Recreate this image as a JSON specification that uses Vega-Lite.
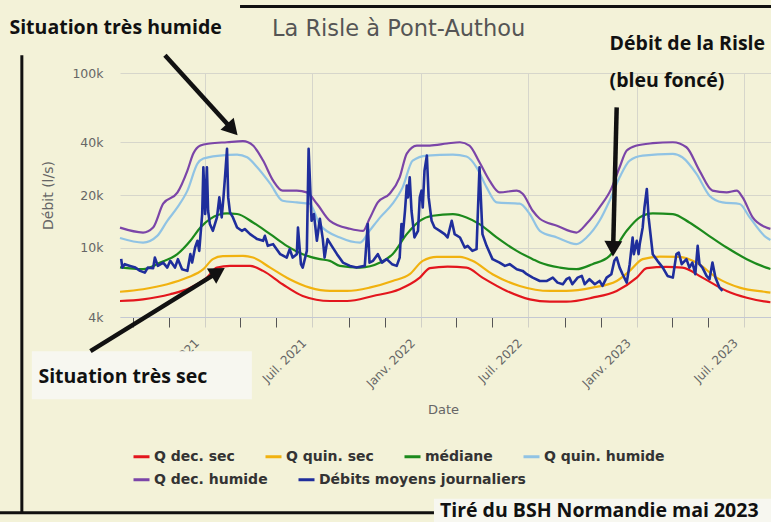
{
  "$schema": "https://vega.github.io/schema/vega-lite/v6.json",
  "width": 651,
  "height": 244,
  "autosize": {"type": "none"},
  "padding": {"left": 120, "top": 73, "right": 0, "bottom": 205},
  "background": "#f3f2d8",
  "config": {"view": {"stroke": null}},
  "datasets": {
    "flows": [
      {"date":"2020-08-10","serie":"Q dec. sec","debit":4940},
      {"date":"2020-09-18","serie":"Q dec. sec","debit":5050},
      {"date":"2020-11-03","serie":"Q dec. sec","debit":5400},
      {"date":"2020-12-07","serie":"Q dec. sec","debit":5890},
      {"date":"2021-01-04","serie":"Q dec. sec","debit":6725},
      {"date":"2021-01-21","serie":"Q dec. sec","debit":7675},
      {"date":"2021-02-12","serie":"Q dec. sec","debit":7850},
      {"date":"2021-03-18","serie":"Q dec. sec","debit":7850},
      {"date":"2021-04-09","serie":"Q dec. sec","debit":7350},
      {"date":"2021-05-12","serie":"Q dec. sec","debit":6160},
      {"date":"2021-06-15","serie":"Q dec. sec","debit":5280},
      {"date":"2021-07-31","serie":"Q dec. sec","debit":4940},
      {"date":"2021-08-29","serie":"Q dec. sec","debit":4940},
      {"date":"2021-10-12","serie":"Q dec. sec","debit":5280},
      {"date":"2021-11-26","serie":"Q dec. sec","debit":5770},
      {"date":"2021-12-30","serie":"Q dec. sec","debit":6725},
      {"date":"2022-01-16","serie":"Q dec. sec","debit":7615},
      {"date":"2022-02-15","serie":"Q dec. sec","debit":7780},
      {"date":"2022-03-19","serie":"Q dec. sec","debit":7675},
      {"date":"2022-04-15","serie":"Q dec. sec","debit":6725},
      {"date":"2022-05-26","serie":"Q dec. sec","debit":5640},
      {"date":"2022-07-04","serie":"Q dec. sec","debit":5050},
      {"date":"2022-08-07","serie":"Q dec. sec","debit":4895},
      {"date":"2022-09-04","serie":"Q dec. sec","debit":4895},
      {"date":"2022-10-18","serie":"Q dec. sec","debit":5160},
      {"date":"2022-11-28","serie":"Q dec. sec","debit":5640},
      {"date":"2023-01-01","serie":"Q dec. sec","debit":6725},
      {"date":"2023-01-18","serie":"Q dec. sec","debit":7615},
      {"date":"2023-02-20","serie":"Q dec. sec","debit":7740},
      {"date":"2023-03-19","serie":"Q dec. sec","debit":7675},
      {"date":"2023-04-22","serie":"Q dec. sec","debit":6725},
      {"date":"2023-06-02","serie":"Q dec. sec","debit":5640},
      {"date":"2023-07-06","serie":"Q dec. sec","debit":5160},
      {"date":"2023-08-08","serie":"Q dec. sec","debit":4895},
      {"date":"2023-08-15","serie":"Q dec. sec","debit":4860},

      {"date":"2020-08-10","serie":"Q quin. sec","debit":5580},
      {"date":"2020-09-18","serie":"Q quin. sec","debit":5770},
      {"date":"2020-10-29","serie":"Q quin. sec","debit":6160},
      {"date":"2020-12-02","serie":"Q quin. sec","debit":6725},
      {"date":"2020-12-29","serie":"Q quin. sec","debit":7515},
      {"date":"2021-01-14","serie":"Q quin. sec","debit":8580},
      {"date":"2021-01-31","serie":"Q quin. sec","debit":8925},
      {"date":"2021-03-06","serie":"Q quin. sec","debit":8960},
      {"date":"2021-03-23","serie":"Q quin. sec","debit":8760},
      {"date":"2021-04-21","serie":"Q quin. sec","debit":7675},
      {"date":"2021-05-24","serie":"Q quin. sec","debit":6585},
      {"date":"2021-06-27","serie":"Q quin. sec","debit":5890},
      {"date":"2021-07-31","serie":"Q quin. sec","debit":5640},
      {"date":"2021-08-29","serie":"Q quin. sec","debit":5640},
      {"date":"2021-10-06","serie":"Q quin. sec","debit":5890},
      {"date":"2021-11-14","serie":"Q quin. sec","debit":6435},
      {"date":"2021-12-13","serie":"Q quin. sec","debit":7035},
      {"date":"2022-01-04","serie":"Q quin. sec","debit":8390},
      {"date":"2022-01-28","serie":"Q quin. sec","debit":8845},
      {"date":"2022-03-08","serie":"Q quin. sec","debit":8845},
      {"date":"2022-03-29","serie":"Q quin. sec","debit":8390},
      {"date":"2022-05-02","serie":"Q quin. sec","debit":7035},
      {"date":"2022-06-17","serie":"Q quin. sec","debit":6025},
      {"date":"2022-08-07","serie":"Q quin. sec","debit":5640},
      {"date":"2022-09-04","serie":"Q quin. sec","debit":5640},
      {"date":"2022-10-18","serie":"Q quin. sec","debit":5890},
      {"date":"2022-11-28","serie":"Q quin. sec","debit":6435},
      {"date":"2022-12-20","serie":"Q quin. sec","debit":7350},
      {"date":"2023-01-11","serie":"Q quin. sec","debit":8580},
      {"date":"2023-02-09","serie":"Q quin. sec","debit":8880},
      {"date":"2023-03-14","serie":"Q quin. sec","debit":8845},
      {"date":"2023-04-12","serie":"Q quin. sec","debit":8200},
      {"date":"2023-05-16","serie":"Q quin. sec","debit":6725},
      {"date":"2023-06-24","serie":"Q quin. sec","debit":5890},
      {"date":"2023-08-08","serie":"Q quin. sec","debit":5560},
      {"date":"2023-08-15","serie":"Q quin. sec","debit":5520},

      {"date":"2020-08-10","serie":"médiane","debit":7690},
      {"date":"2020-09-18","serie":"médiane","debit":7515},
      {"date":"2020-10-17","serie":"médiane","debit":8200},
      {"date":"2020-11-15","serie":"médiane","debit":9165},
      {"date":"2020-12-07","serie":"médiane","debit":10930},
      {"date":"2020-12-24","serie":"médiane","debit":13030},
      {"date":"2021-01-09","serie":"médiane","debit":14560},
      {"date":"2021-02-07","serie":"médiane","debit":15680},
      {"date":"2021-02-24","serie":"médiane","debit":15560},
      {"date":"2021-03-23","serie":"médiane","debit":13920},
      {"date":"2021-04-21","serie":"médiane","debit":11940},
      {"date":"2021-05-19","serie":"médiane","debit":10230},
      {"date":"2021-06-15","serie":"médiane","debit":9165},
      {"date":"2021-07-14","serie":"médiane","debit":8580},
      {"date":"2021-07-31","serie":"médiane","debit":8390},
      {"date":"2021-08-17","serie":"médiane","debit":7850},
      {"date":"2021-09-20","serie":"médiane","debit":7675},
      {"date":"2021-10-24","serie":"médiane","debit":8200},
      {"date":"2021-11-14","serie":"médiane","debit":9165},
      {"date":"2021-12-08","serie":"médiane","debit":11940},
      {"date":"2021-12-30","serie":"médiane","debit":14230},
      {"date":"2022-01-21","serie":"médiane","debit":15210},
      {"date":"2022-02-24","serie":"médiane","debit":15560},
      {"date":"2022-03-19","serie":"médiane","debit":14880},
      {"date":"2022-04-10","serie":"médiane","debit":13630},
      {"date":"2022-05-09","serie":"médiane","debit":11420},
      {"date":"2022-06-12","serie":"médiane","debit":9570},
      {"date":"2022-07-09","serie":"médiane","debit":8580},
      {"date":"2022-07-21","serie":"médiane","debit":8200},
      {"date":"2022-08-24","serie":"médiane","debit":7675},
      {"date":"2022-09-21","serie":"médiane","debit":7515},
      {"date":"2022-10-18","serie":"médiane","debit":8030},
      {"date":"2022-11-16","serie":"médiane","debit":8960},
      {"date":"2022-12-15","serie":"médiane","debit":12470},
      {"date":"2023-01-06","serie":"médiane","debit":14880},
      {"date":"2023-01-28","serie":"médiane","debit":15680},
      {"date":"2023-03-03","serie":"médiane","debit":15560},
      {"date":"2023-03-31","serie":"médiane","debit":13920},
      {"date":"2023-04-29","serie":"médiane","debit":11940},
      {"date":"2023-06-02","serie":"médiane","debit":10000},
      {"date":"2023-07-06","serie":"médiane","debit":8580},
      {"date":"2023-08-08","serie":"médiane","debit":7675},
      {"date":"2023-08-15","serie":"médiane","debit":7540},

      {"date":"2020-08-10","serie":"Q quin. humide","debit":11340},
      {"date":"2020-09-18","serie":"Q quin. humide","debit":10680},
      {"date":"2020-10-12","serie":"Q quin. humide","debit":11670},
      {"date":"2020-10-29","serie":"Q quin. humide","debit":14230},
      {"date":"2020-11-15","serie":"Q quin. humide","debit":16980},
      {"date":"2020-12-02","serie":"Q quin. humide","debit":21180},
      {"date":"2020-12-19","serie":"Q quin. humide","debit":30270},
      {"date":"2020-12-29","serie":"Q quin. humide","debit":32340},
      {"date":"2021-01-26","serie":"Q quin. humide","debit":33650},
      {"date":"2021-02-24","serie":"Q quin. humide","debit":34100},
      {"date":"2021-03-13","serie":"Q quin. humide","debit":32900},
      {"date":"2021-03-30","serie":"Q quin. humide","debit":28830},
      {"date":"2021-04-21","serie":"Q quin. humide","debit":23230},
      {"date":"2021-05-12","serie":"Q quin. humide","debit":18550},
      {"date":"2021-06-05","serie":"Q quin. humide","debit":18140},
      {"date":"2021-06-27","serie":"Q quin. humide","debit":17830},
      {"date":"2021-07-14","serie":"Q quin. humide","debit":13510},
      {"date":"2021-08-17","serie":"Q quin. humide","debit":11420},
      {"date":"2021-09-20","serie":"Q quin. humide","debit":10680},
      {"date":"2021-10-06","serie":"Q quin. humide","debit":12470},
      {"date":"2021-10-24","serie":"Q quin. humide","debit":14880},
      {"date":"2021-11-14","serie":"Q quin. humide","debit":17830},
      {"date":"2021-12-01","serie":"Q quin. humide","debit":22120},
      {"date":"2021-12-18","serie":"Q quin. humide","debit":31500},
      {"date":"2022-01-11","serie":"Q quin. humide","debit":33650},
      {"date":"2022-02-24","serie":"Q quin. humide","debit":34100},
      {"date":"2022-03-19","serie":"Q quin. humide","debit":33210},
      {"date":"2022-04-05","serie":"Q quin. humide","debit":28830},
      {"date":"2022-04-22","serie":"Q quin. humide","debit":22120},
      {"date":"2022-05-09","serie":"Q quin. humide","debit":18140},
      {"date":"2022-06-17","serie":"Q quin. humide","debit":17830},
      {"date":"2022-07-04","serie":"Q quin. humide","debit":15560},
      {"date":"2022-07-21","serie":"Q quin. humide","debit":12470},
      {"date":"2022-08-19","serie":"Q quin. humide","debit":11420},
      {"date":"2022-09-21","serie":"Q quin. humide","debit":10460},
      {"date":"2022-10-08","serie":"Q quin. humide","debit":11420},
      {"date":"2022-10-30","serie":"Q quin. humide","debit":14230},
      {"date":"2022-11-16","serie":"Q quin. humide","debit":18550},
      {"date":"2022-12-03","serie":"Q quin. humide","debit":25260},
      {"date":"2022-12-20","serie":"Q quin. humide","debit":31500},
      {"date":"2023-01-11","serie":"Q quin. humide","debit":33650},
      {"date":"2023-03-03","serie":"Q quin. humide","debit":34420},
      {"date":"2023-03-19","serie":"Q quin. humide","debit":32900},
      {"date":"2023-04-12","serie":"Q quin. humide","debit":26410},
      {"date":"2023-05-04","serie":"Q quin. humide","debit":19820},
      {"date":"2023-05-26","serie":"Q quin. humide","debit":18140},
      {"date":"2023-06-24","serie":"Q quin. humide","debit":17760},
      {"date":"2023-07-11","serie":"Q quin. humide","debit":14880},
      {"date":"2023-08-08","serie":"Q quin. humide","debit":11420},
      {"date":"2023-08-15","serie":"Q quin. humide","debit":11040},

      {"date":"2020-08-10","serie":"Q dec. humide","debit":13000},
      {"date":"2020-09-18","serie":"Q dec. humide","debit":12190},
      {"date":"2020-10-05","serie":"Q dec. humide","debit":13030},
      {"date":"2020-10-22","serie":"Q dec. humide","debit":17830},
      {"date":"2020-11-15","serie":"Q dec. humide","debit":20620},
      {"date":"2020-12-02","serie":"Q dec. humide","debit":27600},
      {"date":"2020-12-12","serie":"Q dec. humide","debit":34550},
      {"date":"2020-12-24","serie":"Q dec. humide","debit":38410},
      {"date":"2021-01-09","serie":"Q dec. humide","debit":39450},
      {"date":"2021-02-07","serie":"Q dec. humide","debit":40120},
      {"date":"2021-03-06","serie":"Q dec. humide","debit":40660},
      {"date":"2021-03-23","serie":"Q dec. humide","debit":38410},
      {"date":"2021-04-09","serie":"Q dec. humide","debit":31500},
      {"date":"2021-04-26","serie":"Q dec. humide","debit":24170},
      {"date":"2021-05-12","serie":"Q dec. humide","debit":21180},
      {"date":"2021-06-05","serie":"Q dec. humide","debit":21180},
      {"date":"2021-06-22","serie":"Q dec. humide","debit":20700},
      {"date":"2021-07-09","serie":"Q dec. humide","debit":17830},
      {"date":"2021-07-31","serie":"Q dec. humide","debit":14230},
      {"date":"2021-09-03","serie":"Q dec. humide","debit":12810},
      {"date":"2021-09-25","serie":"Q dec. humide","debit":12470},
      {"date":"2021-10-06","serie":"Q dec. humide","debit":14620},
      {"date":"2021-10-20","serie":"Q dec. humide","debit":18140},
      {"date":"2021-11-09","serie":"Q dec. humide","debit":20350},
      {"date":"2021-11-26","serie":"Q dec. humide","debit":25260},
      {"date":"2021-12-08","serie":"Q dec. humide","debit":34550},
      {"date":"2021-12-25","serie":"Q dec. humide","debit":38410},
      {"date":"2022-01-16","serie":"Q dec. humide","debit":38410},
      {"date":"2022-02-14","serie":"Q dec. humide","debit":39450},
      {"date":"2022-03-08","serie":"Q dec. humide","debit":40120},
      {"date":"2022-03-24","serie":"Q dec. humide","debit":38410},
      {"date":"2022-04-10","serie":"Q dec. humide","debit":30800},
      {"date":"2022-04-27","serie":"Q dec. humide","debit":24170},
      {"date":"2022-05-14","serie":"Q dec. humide","debit":20700},
      {"date":"2022-06-12","serie":"Q dec. humide","debit":21180},
      {"date":"2022-06-22","serie":"Q dec. humide","debit":20350},
      {"date":"2022-07-09","serie":"Q dec. humide","debit":16250},
      {"date":"2022-07-21","serie":"Q dec. humide","debit":14620},
      {"date":"2022-08-19","serie":"Q dec. humide","debit":13330},
      {"date":"2022-09-21","serie":"Q dec. humide","debit":12190},
      {"date":"2022-10-08","serie":"Q dec. humide","debit":13680},
      {"date":"2022-10-30","serie":"Q dec. humide","debit":16980},
      {"date":"2022-11-19","serie":"Q dec. humide","debit":21750},
      {"date":"2022-12-03","serie":"Q dec. humide","debit":28830},
      {"date":"2022-12-15","serie":"Q dec. humide","debit":35950},
      {"date":"2023-01-01","serie":"Q dec. humide","debit":38410},
      {"date":"2023-01-28","serie":"Q dec. humide","debit":39600},
      {"date":"2023-03-03","serie":"Q dec. humide","debit":40120},
      {"date":"2023-03-26","serie":"Q dec. humide","debit":37550},
      {"date":"2023-04-17","serie":"Q dec. humide","debit":27600},
      {"date":"2023-05-09","serie":"Q dec. humide","debit":21180},
      {"date":"2023-06-02","serie":"Q dec. humide","debit":20700},
      {"date":"2023-06-19","serie":"Q dec. humide","debit":21180},
      {"date":"2023-06-29","serie":"Q dec. humide","debit":19380},
      {"date":"2023-07-16","serie":"Q dec. humide","debit":14880},
      {"date":"2023-08-08","serie":"Q dec. humide","debit":13030},
      {"date":"2023-08-15","serie":"Q dec. humide","debit":12800},

      {"date":"2020-08-12","serie":"Débits moyens journaliers","debit":8610},
      {"date":"2020-08-14","serie":"Débits moyens journaliers","debit":7675},
      {"date":"2020-08-18","serie":"Débits moyens journaliers","debit":8030},
      {"date":"2020-08-27","serie":"Débits moyens journaliers","debit":7850},
      {"date":"2020-09-05","serie":"Débits moyens journaliers","debit":7675},
      {"date":"2020-09-13","serie":"Débits moyens journaliers","debit":7350},
      {"date":"2020-09-21","serie":"Débits moyens journaliers","debit":7180},
      {"date":"2020-09-26","serie":"Débits moyens journaliers","debit":7675},
      {"date":"2020-10-05","serie":"Débits moyens journaliers","debit":7615},
      {"date":"2020-10-08","serie":"Débits moyens journaliers","debit":8760},
      {"date":"2020-10-13","serie":"Débits moyens journaliers","debit":7850},
      {"date":"2020-10-22","serie":"Débits moyens journaliers","debit":8200},
      {"date":"2020-10-29","serie":"Débits moyens journaliers","debit":7675},
      {"date":"2020-11-03","serie":"Débits moyens journaliers","debit":8390},
      {"date":"2020-11-11","serie":"Débits moyens journaliers","debit":7675},
      {"date":"2020-11-16","serie":"Débits moyens journaliers","debit":8580},
      {"date":"2020-11-23","serie":"Débits moyens journaliers","debit":7515},
      {"date":"2020-12-02","serie":"Débits moyens journaliers","debit":7350},
      {"date":"2020-12-07","serie":"Débits moyens journaliers","debit":9165},
      {"date":"2020-12-10","serie":"Débits moyens journaliers","debit":8200},
      {"date":"2020-12-15","serie":"Débits moyens journaliers","debit":10000},
      {"date":"2020-12-19","serie":"Débits moyens journaliers","debit":10930},
      {"date":"2020-12-22","serie":"Débits moyens journaliers","debit":9570},
      {"date":"2020-12-27","serie":"Débits moyens journaliers","debit":15560},
      {"date":"2020-12-29","serie":"Débits moyens journaliers","debit":28830},
      {"date":"2021-01-01","serie":"Débits moyens journaliers","debit":15560},
      {"date":"2021-01-04","serie":"Débits moyens journaliers","debit":28830},
      {"date":"2021-01-06","serie":"Débits moyens journaliers","debit":16250},
      {"date":"2021-01-09","serie":"Débits moyens journaliers","debit":13630},
      {"date":"2021-01-14","serie":"Débits moyens journaliers","debit":12470},
      {"date":"2021-01-21","serie":"Débits moyens journaliers","debit":14880},
      {"date":"2021-01-25","serie":"Débits moyens journaliers","debit":19380},
      {"date":"2021-01-29","serie":"Débits moyens journaliers","debit":14880},
      {"date":"2021-02-01","serie":"Débits moyens journaliers","debit":19380},
      {"date":"2021-02-04","serie":"Débits moyens journaliers","debit":26410},
      {"date":"2021-02-07","serie":"Débits moyens journaliers","debit":36770},
      {"date":"2021-02-09","serie":"Débits moyens journaliers","debit":19380},
      {"date":"2021-02-12","serie":"Débits moyens journaliers","debit":15890},
      {"date":"2021-02-17","serie":"Débits moyens journaliers","debit":14880},
      {"date":"2021-02-24","serie":"Débits moyens journaliers","debit":13030},
      {"date":"2021-03-04","serie":"Débits moyens journaliers","debit":12470},
      {"date":"2021-03-09","serie":"Débits moyens journaliers","debit":12760},
      {"date":"2021-03-18","serie":"Débits moyens journaliers","debit":11940},
      {"date":"2021-03-30","serie":"Débits moyens journaliers","debit":11180},
      {"date":"2021-04-09","serie":"Débits moyens journaliers","debit":10930},
      {"date":"2021-04-12","serie":"Débits moyens journaliers","debit":11670},
      {"date":"2021-04-17","serie":"Débits moyens journaliers","debit":10230},
      {"date":"2021-04-26","serie":"Débits moyens journaliers","debit":10460},
      {"date":"2021-05-08","serie":"Débits moyens journaliers","debit":9165},
      {"date":"2021-05-19","serie":"Débits moyens journaliers","debit":8760},
      {"date":"2021-05-24","serie":"Débits moyens journaliers","debit":9790},
      {"date":"2021-05-29","serie":"Débits moyens journaliers","debit":8760},
      {"date":"2021-06-05","serie":"Débits moyens journaliers","debit":9165},
      {"date":"2021-06-07","serie":"Débits moyens journaliers","debit":13030},
      {"date":"2021-06-12","serie":"Débits moyens journaliers","debit":8030},
      {"date":"2021-06-15","serie":"Débits moyens journaliers","debit":7675},
      {"date":"2021-06-22","serie":"Débits moyens journaliers","debit":9570},
      {"date":"2021-06-25","serie":"Débits moyens journaliers","debit":36770},
      {"date":"2021-06-30","serie":"Débits moyens journaliers","debit":14230},
      {"date":"2021-07-04","serie":"Débits moyens journaliers","debit":15560},
      {"date":"2021-07-09","serie":"Débits moyens journaliers","debit":10930},
      {"date":"2021-07-14","serie":"Débits moyens journaliers","debit":14620},
      {"date":"2021-07-19","serie":"Débits moyens journaliers","debit":11180},
      {"date":"2021-07-22","serie":"Débits moyens journaliers","debit":8760},
      {"date":"2021-07-27","serie":"Débits moyens journaliers","debit":11180},
      {"date":"2021-08-03","serie":"Débits moyens journaliers","debit":10230},
      {"date":"2021-08-12","serie":"Débits moyens journaliers","debit":9165},
      {"date":"2021-08-22","serie":"Débits moyens journaliers","debit":8200},
      {"date":"2021-09-03","serie":"Débits moyens journaliers","debit":7850},
      {"date":"2021-09-14","serie":"Débits moyens journaliers","debit":7675},
      {"date":"2021-09-28","serie":"Débits moyens journaliers","debit":7850},
      {"date":"2021-10-03","serie":"Débits moyens journaliers","debit":13630},
      {"date":"2021-10-06","serie":"Débits moyens journaliers","debit":8200},
      {"date":"2021-10-12","serie":"Débits moyens journaliers","debit":8390},
      {"date":"2021-10-20","serie":"Débits moyens journaliers","debit":9165},
      {"date":"2021-10-27","serie":"Débits moyens journaliers","debit":8200},
      {"date":"2021-11-04","serie":"Débits moyens journaliers","debit":8580},
      {"date":"2021-11-13","serie":"Débits moyens journaliers","debit":8030},
      {"date":"2021-11-21","serie":"Débits moyens journaliers","debit":7850},
      {"date":"2021-11-26","serie":"Débits moyens journaliers","debit":8760},
      {"date":"2021-11-29","serie":"Débits moyens journaliers","debit":13630},
      {"date":"2021-12-01","serie":"Débits moyens journaliers","debit":11420},
      {"date":"2021-12-05","serie":"Débits moyens journaliers","debit":16250},
      {"date":"2021-12-08","serie":"Débits moyens journaliers","debit":22620},
      {"date":"2021-12-10","serie":"Débits moyens journaliers","debit":19380},
      {"date":"2021-12-13","serie":"Débits moyens journaliers","debit":25260},
      {"date":"2021-12-16","serie":"Débits moyens journaliers","debit":16250},
      {"date":"2021-12-21","serie":"Débits moyens journaliers","debit":11420},
      {"date":"2021-12-27","serie":"Débits moyens journaliers","debit":12470},
      {"date":"2021-12-30","serie":"Débits moyens journaliers","debit":19380},
      {"date":"2022-01-02","serie":"Débits moyens journaliers","debit":21180},
      {"date":"2022-01-04","serie":"Débits moyens journaliers","debit":16980},
      {"date":"2022-01-07","serie":"Débits moyens journaliers","debit":27600},
      {"date":"2022-01-11","serie":"Débits moyens journaliers","debit":33650},
      {"date":"2022-01-14","serie":"Débits moyens journaliers","debit":19380},
      {"date":"2022-01-19","serie":"Débits moyens journaliers","debit":14230},
      {"date":"2022-01-24","serie":"Débits moyens journaliers","debit":13030},
      {"date":"2022-02-02","serie":"Débits moyens journaliers","debit":12470},
      {"date":"2022-02-10","serie":"Débits moyens journaliers","debit":11940},
      {"date":"2022-02-15","serie":"Débits moyens journaliers","debit":11420},
      {"date":"2022-02-22","serie":"Débits moyens journaliers","debit":14230},
      {"date":"2022-02-27","serie":"Débits moyens journaliers","debit":11940},
      {"date":"2022-03-08","serie":"Débits moyens journaliers","debit":11420},
      {"date":"2022-03-16","serie":"Débits moyens journaliers","debit":10000},
      {"date":"2022-03-21","serie":"Débits moyens journaliers","debit":10230},
      {"date":"2022-03-29","serie":"Débits moyens journaliers","debit":9570},
      {"date":"2022-04-05","serie":"Débits moyens journaliers","debit":9790},
      {"date":"2022-04-10","serie":"Débits moyens journaliers","debit":28830},
      {"date":"2022-04-15","serie":"Débits moyens journaliers","debit":11940},
      {"date":"2022-04-22","serie":"Débits moyens journaliers","debit":10230},
      {"date":"2022-05-02","serie":"Débits moyens journaliers","debit":8580},
      {"date":"2022-05-14","serie":"Débits moyens journaliers","debit":8200},
      {"date":"2022-05-23","serie":"Débits moyens journaliers","debit":7850},
      {"date":"2022-05-31","serie":"Débits moyens journaliers","debit":8030},
      {"date":"2022-06-12","serie":"Débits moyens journaliers","debit":7515},
      {"date":"2022-06-22","serie":"Débits moyens journaliers","debit":7350},
      {"date":"2022-06-29","serie":"Débits moyens journaliers","debit":7035},
      {"date":"2022-07-09","serie":"Débits moyens journaliers","debit":6725},
      {"date":"2022-07-21","serie":"Débits moyens journaliers","debit":6435},
      {"date":"2022-08-02","serie":"Débits moyens journaliers","debit":6435},
      {"date":"2022-08-12","serie":"Débits moyens journaliers","debit":6725},
      {"date":"2022-08-20","serie":"Débits moyens journaliers","debit":6295},
      {"date":"2022-08-29","serie":"Débits moyens journaliers","debit":6163},
      {"date":"2022-09-04","serie":"Débits moyens journaliers","debit":6585},
      {"date":"2022-09-09","serie":"Débits moyens journaliers","debit":6725},
      {"date":"2022-09-14","serie":"Débits moyens journaliers","debit":6163},
      {"date":"2022-09-23","serie":"Débits moyens journaliers","debit":6725},
      {"date":"2022-09-30","serie":"Débits moyens journaliers","debit":6880},
      {"date":"2022-10-05","serie":"Débits moyens journaliers","debit":6163},
      {"date":"2022-10-13","serie":"Débits moyens journaliers","debit":6585},
      {"date":"2022-10-22","serie":"Débits moyens journaliers","debit":6163},
      {"date":"2022-10-30","serie":"Débits moyens journaliers","debit":6435},
      {"date":"2022-11-04","serie":"Débits moyens journaliers","debit":6025},
      {"date":"2022-11-11","serie":"Débits moyens journaliers","debit":6725},
      {"date":"2022-11-19","serie":"Débits moyens journaliers","debit":7035},
      {"date":"2022-11-24","serie":"Débits moyens journaliers","debit":8390},
      {"date":"2022-11-28","serie":"Débits moyens journaliers","debit":8760},
      {"date":"2022-12-03","serie":"Débits moyens journaliers","debit":7675},
      {"date":"2022-12-08","serie":"Débits moyens journaliers","debit":7035},
      {"date":"2022-12-15","serie":"Débits moyens journaliers","debit":6295},
      {"date":"2022-12-20","serie":"Débits moyens journaliers","debit":8030},
      {"date":"2022-12-25","serie":"Débits moyens journaliers","debit":11420},
      {"date":"2022-12-27","serie":"Débits moyens journaliers","debit":9165},
      {"date":"2023-01-01","serie":"Débits moyens journaliers","debit":10930},
      {"date":"2023-01-04","serie":"Débits moyens journaliers","debit":9165},
      {"date":"2023-01-06","serie":"Débits moyens journaliers","debit":10460},
      {"date":"2023-01-11","serie":"Débits moyens journaliers","debit":13030},
      {"date":"2023-01-14","serie":"Débits moyens journaliers","debit":16980},
      {"date":"2023-01-18","serie":"Débits moyens journaliers","debit":21650},
      {"date":"2023-01-21","serie":"Débits moyens journaliers","debit":14880},
      {"date":"2023-01-28","serie":"Débits moyens journaliers","debit":9165},
      {"date":"2023-02-05","serie":"Débits moyens journaliers","debit":8390},
      {"date":"2023-02-14","serie":"Débits moyens journaliers","debit":7675},
      {"date":"2023-02-22","serie":"Débits moyens journaliers","debit":6880},
      {"date":"2023-03-03","serie":"Débits moyens journaliers","debit":6725},
      {"date":"2023-03-09","serie":"Débits moyens journaliers","debit":9165},
      {"date":"2023-03-13","serie":"Débits moyens journaliers","debit":9360},
      {"date":"2023-03-18","serie":"Débits moyens journaliers","debit":8030},
      {"date":"2023-03-26","serie":"Débits moyens journaliers","debit":8580},
      {"date":"2023-03-31","serie":"Débits moyens journaliers","debit":7675},
      {"date":"2023-04-05","serie":"Débits moyens journaliers","debit":8200},
      {"date":"2023-04-10","serie":"Débits moyens journaliers","debit":7035},
      {"date":"2023-04-14","serie":"Débits moyens journaliers","debit":10230},
      {"date":"2023-04-17","serie":"Débits moyens journaliers","debit":8030},
      {"date":"2023-04-22","serie":"Débits moyens journaliers","debit":7675},
      {"date":"2023-04-29","serie":"Débits moyens journaliers","debit":6880},
      {"date":"2023-05-04","serie":"Débits moyens journaliers","debit":6585},
      {"date":"2023-05-09","serie":"Débits moyens journaliers","debit":8200},
      {"date":"2023-05-14","serie":"Débits moyens journaliers","debit":6725},
      {"date":"2023-05-21","serie":"Débits moyens journaliers","debit":5890},
      {"date":"2023-05-26","serie":"Débits moyens journaliers","debit":5640}
    ],
    "heading": [
      {"date":"2021-04-24","debit":162500,"note":"La Risle à Pont-Authou"}
    ],
    "notes": [
      {"date":"2020-02-05","debit":168000,"note":"Situation très humide"},
      {"date":"2022-11-16","debit":135000,"note":"Débit de la Risle"},
      {"date":"2022-11-16","debit":82780,"note":"(bleu foncé)"},
      {"date":"2020-03-25","debit":1675,"note":"Situation très sec"},
      {"date":"2022-02-02","debit":285,"note":"Tiré du BSH Normandie mai 2023"}
    ],
    "boxes": [
      {"date":"2020-03-14","date2":"2021-03-21","debit":2549,"debit2":1351},
      {"date":"2022-01-23","date2":"2023-08-25","debit":364,"debit2":250}
    ],
    "frame": [
      {"date":"2021-03-01","date2":"2023-08-25","debit":240200,"debit2":240200},
      {"date":"2020-02-26","date2":"2020-02-26","debit":126400,"debit2":302.7},
      {"date":"2020-01-20","date2":"2022-01-23","debit":302.7,"debit2":302.7}
    ],
    "arrows": [
      {"id":"humide","date":"2020-10-25","date2":"2021-02-16","debit":126400,"debit2":47420},
      {"id":"sec","date":"2020-06-21","date2":"2021-01-23","debit":2549,"debit2":7233},
      {"id":"risle","date":"2022-11-28","date2":"2022-11-22","debit":63520,"debit2":9829}
    ]
  },
  "encoding": {
    "x": {
      "field": "date", "type": "temporal",
      "scale": {"type": "utc", "domain": ["2020-08-10", "2023-08-16"]},
      "axis": {
        "values": [
          {"year":2020,"month":9,"date":1,"utc":true},
          {"year":2020,"month":11,"date":1,"utc":true},
          {"year":2021,"month":1,"date":1,"utc":true},
          {"year":2021,"month":3,"date":1,"utc":true},
          {"year":2021,"month":5,"date":1,"utc":true},
          {"year":2021,"month":7,"date":1,"utc":true},
          {"year":2021,"month":9,"date":1,"utc":true},
          {"year":2021,"month":11,"date":1,"utc":true},
          {"year":2022,"month":1,"date":1,"utc":true},
          {"year":2022,"month":3,"date":1,"utc":true},
          {"year":2022,"month":5,"date":1,"utc":true},
          {"year":2022,"month":7,"date":1,"utc":true},
          {"year":2022,"month":9,"date":1,"utc":true},
          {"year":2022,"month":11,"date":1,"utc":true},
          {"year":2023,"month":1,"date":1,"utc":true},
          {"year":2023,"month":3,"date":1,"utc":true},
          {"year":2023,"month":5,"date":1,"utc":true},
          {"year":2023,"month":7,"date":1,"utc":true}
        ],
        "labelExpr": "utcmonth(datum.value) == 0 ? 'Janv. ' + utcyear(datum.value) : (utcmonth(datum.value) == 6 ? 'Juil. ' + utcyear(datum.value) : '')",
        "labelAngle": -45,
        "labelFont": "DejaVu Sans", "labelFontSize": 12, "labelColor": "#666666",
        "labelPadding": 10, "labelOffset": -12, "labelOverlap": false, "labelFlush": false, "labelBound": false,
        "tickSize": 10,
        "tickColor": {"condition": {"test": "utcmonth(datum.value) % 6 == 0", "value": "#d0d0c6"}, "value": "#555555"},
        "grid": true, "gridColor": "#d6d6cb",
        "gridOpacity": {"condition": {"test": "utcmonth(datum.value) % 6 == 0", "value": 1}, "value": 0},
        "domainColor": "#c4c8d2",
        "title": "Date", "titleFont": "DejaVu Sans", "titleFontSize": 13, "titleFontWeight": "normal", "titleColor": "#666666",
        "titleX": 323, "titleY": 96, "titleAlign": "center", "titleBaseline": "alphabetic",
        "zindex": 0
      }
    },
    "y": {
      "field": "debit", "type": "quantitative",
      "scale": {"type": "log", "domain": [4000, 100000]},
      "axis": {
        "values": [4000, 10000, 20000, 40000, 100000],
        "labelExpr": "format(datum.value / 1000, 'd') + 'k'",
        "ticks": false, "domain": false, "labelPadding": 17,
        "labelFont": "DejaVu Sans", "labelFontSize": 12.5, "labelColor": "#666666",
        "grid": true, "gridColor": "#d6d6cb",
        "title": "Débit (l/s)", "titleFont": "DejaVu Sans", "titleFontSize": 14, "titleFontWeight": "normal", "titleColor": "#666666",
        "titleX": -72, "titleY": 122, "titleAngle": -90, "titleAlign": "center", "titleBaseline": "middle",
        "zindex": 0
      }
    }
  },
  "layer": [
    {
      "data": {"name": "flows"},
      "transform": [{"filter": "indexof(['Q dec. sec', 'Q quin. sec', 'médiane', 'Q quin. humide'], datum.serie) >= 0"}],
      "mark": {"type": "line", "interpolate": "monotone", "strokeWidth": 2.2},
      "encoding": {
        "color": {
          "field": "serie", "type": "nominal",
          "scale": {"domain": ["Q dec. sec", "Q quin. sec", "médiane", "Q quin. humide"],
                    "range": ["#e3161d", "#f1b20f", "#1c8a1c", "#90c3e4"]},
          "legend": {
            "orient": "none", "legendX": 12, "legendY": 374, "direction": "horizontal",
            "title": null, "symbolType": "stroke", "symbolSize": 256, "symbolStrokeWidth": 3,
            "labelFont": "DejaVu Sans", "labelFontSize": 14, "labelFontWeight": "bold", "labelColor": "#333333",
            "labelOffset": 3, "columnPadding": 24, "padding": 0, "labelLimit": 400
          }
        }
      }
    },
    {
      "data": {"name": "flows"},
      "transform": [{"filter": "datum.serie == 'Q dec. humide'"}],
      "mark": {"type": "line", "interpolate": "monotone", "strokeWidth": 2.2},
      "encoding": {
        "stroke": {
          "field": "serie", "type": "nominal",
          "scale": {"domain": ["Q dec. humide", "Débits moyens journaliers"], "range": ["#7b45a8", "#1f2e9c"]},
          "legend": {
            "orient": "none", "legendX": 12, "legendY": 397, "direction": "horizontal",
            "title": null, "symbolType": "stroke", "symbolSize": 256, "symbolStrokeWidth": 3,
            "labelFont": "DejaVu Sans", "labelFontSize": 14, "labelFontWeight": "bold", "labelColor": "#333333",
            "labelOffset": 3, "columnPadding": 24, "padding": 0, "labelLimit": 400
          }
        }
      }
    },
    {
      "data": {"name": "flows"},
      "transform": [{"filter": "datum.serie == 'Débits moyens journaliers'"}],
      "mark": {"type": "line", "strokeWidth": 2.6, "strokeJoin": "round"},
      "encoding": {"stroke": {"field": "serie", "type": "nominal"}}
    },
    {
      "data": {"name": "boxes"},
      "mark": {"type": "rect", "color": "#f7f7f0"},
      "encoding": {"x2": {"field": "date2"}, "y2": {"field": "debit2"}}
    },
    {
      "data": {"name": "frame"},
      "mark": {"type": "rule", "color": "#111111", "strokeWidth": 3},
      "encoding": {"x2": {"field": "date2"}, "y2": {"field": "debit2"}}
    },
    {
      "data": {"name": "arrows"},
      "mark": {"type": "rule", "color": "#111111", "strokeWidth": 4.5},
      "encoding": {"x2": {"field": "date2"}, "y2": {"field": "debit2"}}
    },
    {
      "data": {"name": "arrows"},
      "transform": [{"filter": "datum.id == 'humide'"}],
      "mark": {"type": "point", "shape": "triangle-up", "filled": true, "color": "#111111", "opacity": 1, "size": 320, "angle": 137.6},
      "encoding": {"x": {"field": "date2", "type": "temporal"}, "y": {"field": "debit2", "type": "quantitative"}}
    },
    {
      "data": {"name": "arrows"},
      "transform": [{"filter": "datum.id == 'sec'"}],
      "mark": {"type": "point", "shape": "triangle-up", "filled": true, "color": "#111111", "opacity": 1, "size": 320, "angle": 58.4},
      "encoding": {"x": {"field": "date2", "type": "temporal"}, "y": {"field": "debit2", "type": "quantitative"}}
    },
    {
      "data": {"name": "arrows"},
      "transform": [{"filter": "datum.id == 'risle'"}],
      "mark": {"type": "point", "shape": "triangle-up", "filled": true, "color": "#111111", "opacity": 1, "size": 320, "angle": 181.5},
      "encoding": {"x": {"field": "date2", "type": "temporal"}, "y": {"field": "debit2", "type": "quantitative"}}
    },
    {
      "data": {"name": "heading"},
      "mark": {"type": "text", "align": "left", "baseline": "alphabetic", "font": "DejaVu Sans", "fontSize": 22.5, "color": "#555555"},
      "encoding": {"text": {"field": "note"}}
    },
    {
      "data": {"name": "notes"},
      "mark": {"type": "text", "align": "left", "baseline": "alphabetic", "font": "Open Sans", "fontWeight": "bold", "fontSize": 19.5, "color": "#111111"},
      "encoding": {"text": {"field": "note"}}
    }
  ]
}
